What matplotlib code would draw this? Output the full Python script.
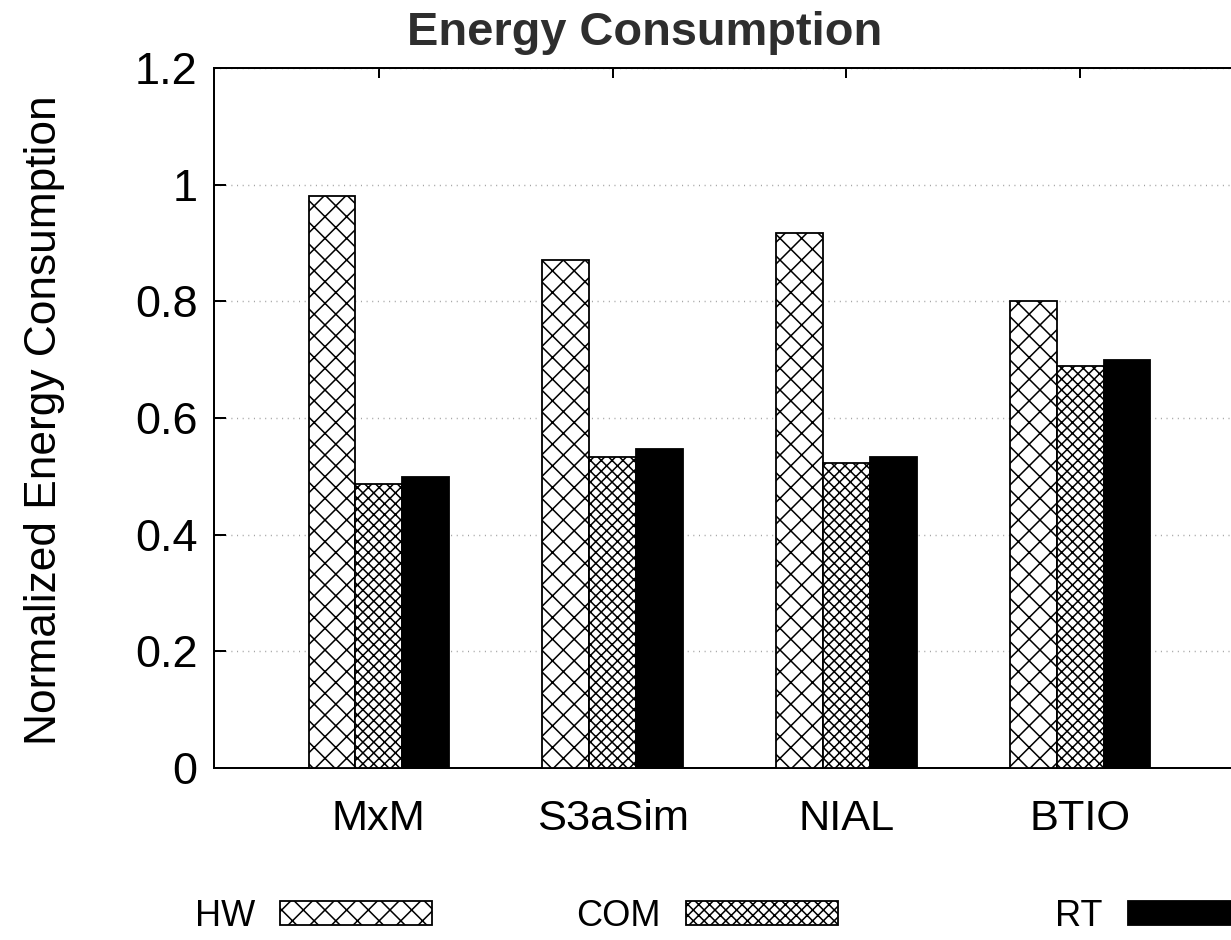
import numpy as np
import matplotlib
matplotlib.use("Agg")
import matplotlib.pyplot as plt

# Benchmark categories and normalized energy per scheme
categories = ["MxM", "S3aSim", "NIAL", "BTIO"]
hw_values = [0.981, 0.871, 0.917, 0.800]
com_values = [0.487, 0.533, 0.523, 0.689]
rt_values = [0.499, 0.547, 0.533, 0.700]
series_labels = ["HW", "COM", "RT"]
y_ticks = [0, 0.2, 0.4, 0.6, 0.8, 1.0, 1.2]
y_tick_labels = ["0", "0.2", "0.4", "0.6", "0.8", "1", "1.2"]

DPI = 130
W, H = 1231, 940
plt.rcParams["font.family"] = ["Liberation Sans", "DejaVu Sans"]
plt.rcParams["hatch.linewidth"] = 0.85

fig = plt.figure(figsize=(W / DPI, H / DPI), dpi=DPI)

# axes box in pixel terms: left spine x=214, y range 68..768
x_lo, x_hi = 0.295, 4.705
px_per_unit = 233.8
ax_left = 214 / W
ax_width = (x_hi - x_lo) * px_per_unit / W
ax_bottom = (H - 768) / H
ax_height = (768 - 68) / H
ax = fig.add_axes([ax_left, ax_bottom, ax_width, ax_height])

x = np.arange(1, len(categories) + 1)
bw = 0.2
bar_kw = dict(width=bw, edgecolor="black", linewidth=1.0, zorder=3)
bars = [
    ax.bar(x - bw, hw_values, color="white", hatch="xx", label=series_labels[0], **bar_kw),
    ax.bar(x, com_values, color="white", hatch="xxxx", label=series_labels[1], **bar_kw),
    ax.bar(x + bw, rt_values, color="black", label=series_labels[2], **bar_kw),
]

ax.set_xlim(x_lo, x_hi)
ax.set_ylim(0, 1.2)
ax.set_yticks(y_ticks)
ax.set_yticklabels(y_tick_labels)
ax.set_xticks(x)
ax.set_xticklabels(categories)

ax.set_axisbelow(True)
ax.yaxis.grid(True, color="#a0a0a0", linewidth=0.8, linestyle=(0, (0.7, 3.2)))
ax.xaxis.grid(False)

for s in ax.spines.values():
    s.set_linewidth(1.1)
    s.set_color("black")

ax.tick_params(axis="y", direction="in", length=6.5, width=1.1, labelsize=25,
               pad=9, right=True)
ax.tick_params(axis="x", direction="in", length=5.5, width=1.1, labelsize=24,
               pad=17, top=True)

fig.text(645 / W, 1 - 45 / H, "Energy Consumption", ha="center", va="baseline",
         fontsize=26, fontweight="bold", color="#2e2e2e")
fig.text(45 / W, 1 - 420 / H, "Normalized Energy Consumption", rotation=90,
         ha="center", va="center", fontsize=24.5)

# one key per series along the bottom, label to the left of its swatch
fs_leg = 20
em = fs_leg * DPI / 72
swatch_end_px = [432, 838, 1280]
for container, label, xe in zip(bars, series_labels, swatch_end_px):
    fig.legend([container], [label], loc="center right",
               bbox_to_anchor=(xe / W, 1 - 916 / H),
               frameon=False, markerfirst=False, fontsize=fs_leg,
               handlelength=152 / em, handleheight=23 / em,
               handletextpad=25 / em, borderaxespad=0, borderpad=0)

fig.savefig("out.png", dpi=DPI)
